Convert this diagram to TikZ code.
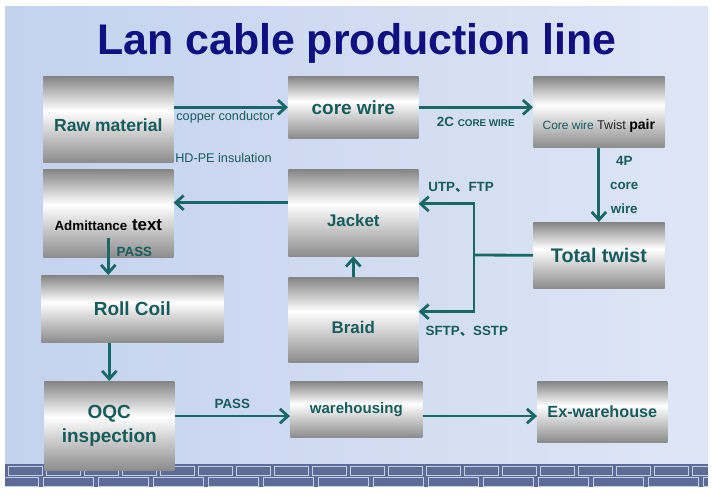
\documentclass[tikz,border=0pt]{standalone}
\usepackage{fontspec}
\setmainfont{Liberation Sans}
\newfontfamily\cjkfont{Noto Sans CJK SC}
\usepackage{xcolor}
\usetikzlibrary{arrows.meta,positioning}

\definecolor{cabteal}{RGB}{22,92,92}
\definecolor{arrowteal}{RGB}{24,104,104}
\definecolor{titlenavy}{RGB}{16,16,128}
\definecolor{boxhigh}{RGB}{132,132,132}
\definecolor{boxlow}{RGB}{140,140,140}
\definecolor{skyleft}{RGB}{196,210,238}
\definecolor{skyright}{RGB}{222,230,246}
\definecolor{brick}{RGB}{92,108,150}
\definecolor{mortar}{RGB}{196,206,228}

\pgfdeclareverticalshading{boxshade}{100bp}{color(0bp)=(boxlow); color(25bp)=(boxlow); color(55bp)=(white); color(75bp)=(boxhigh); color(100bp)=(boxhigh)}

\newcommand{\dun}{{\cjkfont 、}}

\begin{document}
\begin{tikzpicture}[x=0.025cm, y=-0.025cm,
  stage/.style={rectangle, shade, shading=boxshade, anchor=north west, align=center, text=cabteal, font=\bfseries\fontsize{13.5}{17}\selectfont, minimum width=3.25cm, inner sep=1pt},
  sink/.style={text height=#1, text depth=0pt},
  lbl/.style={text=cabteal, font=\fontsize{9}{11}\selectfont, inner sep=1pt},
  tag/.style={text=cabteal, font=\bfseries\fontsize{9.5}{17}\selectfont, inner sep=1pt},
  arrow/.style={-{Straight Barb[length=2mm,width=3.6mm]}, line width=2pt, draw=arrowteal}
]
\useasboundingbox (0,0) rectangle (713,498);
% backdrop
\fill[white] (0,0) rectangle (713,498);
\shade[left color=skyleft, right color=skyright] (5,7) rectangle (708,487);
\begin{scope}
  \clip (5,464) rectangle (708,487);
  \fill[brick] (5,464) rectangle (708,487);
  \foreach \x in {8,46,...,700}
    \draw[mortar, line width=0.6pt] (\x,466) rectangle (\x+34,475);
  \foreach \x in {-12,43,...,710}
    \draw[mortar, line width=0.6pt] (\x,477) rectangle (\x+50,486);
\end{scope}

\node[font=\bfseries\fontsize{30.5}{34}\selectfont, text=titlenavy, anchor=base] (title) at (357,55) {Lan cable production line};

% stages
\node[stage, minimum height=2.15cm, sink=0.62cm, font=\bfseries\fontsize{12.5}{15}\selectfont] (raw) at (43,76) {Raw material};
\node[stage, minimum height=1.55cm] (core) at (288,76) {core wire};
\node[stage, minimum width=3.28cm, minimum height=1.78cm, sink=0.9cm, font=\fontsize{8.5}{10}\selectfont] (twist) at (533,76)
  {Core wire {\color{black!85}\fontsize{9}{10}\selectfont Twist} {\bfseries\color{black}\fontsize{10}{12}\selectfont pair}};
\node[stage, minimum height=2.2cm, sink=0.85cm, text=black, font=\bfseries\fontsize{12}{14}\selectfont] (admit) at (43,169)
  {{\fontsize{9.5}{11}\selectfont Admittance} text};
\node[stage, minimum height=2.17cm, sink=0.7cm, font=\bfseries\fontsize{12}{14}\selectfont] (jacket) at (288,169) {Jacket};
\node[stage, minimum width=3.28cm, minimum height=1.65cm, font=\bfseries\fontsize{14}{16}\selectfont] (total) at (533,222) {Total twist};
\node[stage, minimum width=4.55cm, minimum height=1.68cm] (roll) at (41,275) {Roll Coil};
\node[stage, minimum height=2.12cm, sink=0.7cm, font=\bfseries\fontsize{12}{14}\selectfont] (braid) at (288,277) {Braid};
\node[stage, minimum height=2.22cm] (oqc) at (44,381) {OQC\\inspection};
\node[stage, minimum width=3.3cm, minimum height=1.4cm, font=\bfseries\fontsize{10.7}{13}\selectfont] (wareh) at (290,381) {warehousing};
\node[stage, minimum height=1.52cm, font=\bfseries\fontsize{11.5}{14}\selectfont] (exw) at (537,381) {Ex-warehouse};

% connectors
\draw[arrow] (raw.east |- core.west) -- (core.west)
  node[lbl, pos=0, anchor=north west, yshift=-1pt] (copper) {copper conductor};
\node[lbl, anchor=west] (hdpe) at ([yshift=0.12cm]raw.south east) {HD-PE insulation};
\draw[arrow] (core.east) -- (core.east -| twist.west)
  node[tag, midway, below=5pt] (twoc) {2C {\fontsize{7}{8}\selectfont CORE WIRE}};
\draw[arrow] (twist.south) -- (total.north)
  node[tag, midway, right=6pt, align=center] (fourp) {4P\\core\\wire};
\coordinate (split) at (474,255);
\draw[line width=2pt, arrowteal] (total.west) -- (split);
\draw[arrow] (split) |- ([yshift=0.22cm]jacket.east)
  node[tag, pos=1, anchor=south west, xshift=5pt, yshift=6pt] (utp) {UTP\dun FTP};
\draw[arrow] (split) |- ([yshift=0.2cm]braid.east)
  node[tag, pos=1, anchor=north west, xshift=3pt, yshift=-8pt] (sftp) {SFTP\dun SSTP};
\draw[arrow] (braid.north) -- (jacket.south);
\draw[arrow] ([yshift=0.25cm]jacket.west) -- ([yshift=0.25cm]jacket.west -| admit.east);
\draw[arrow] ([yshift=0.5cm]admit.south) -- (admit.south |- roll.north)
  node[tag, pos=0.39, right=4pt] (passa) {PASS};
\draw[arrow] (roll.south -| oqc.north) -- (oqc.north);
\draw[arrow] ([yshift=-0.17cm]wareh.west -| oqc.east) -- ([yshift=-0.17cm]wareh.west)
  node[tag, midway, above=3pt] (passb) {PASS};
\draw[arrow] ([yshift=-0.17cm]wareh.east) -- ([yshift=-0.17cm]wareh.east -| exw.west);
\end{tikzpicture}
\end{document}
